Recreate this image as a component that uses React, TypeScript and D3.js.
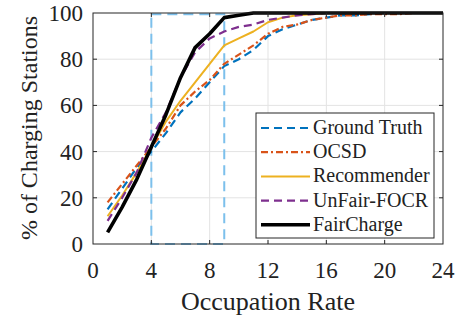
import React from "react";
import * as d3 from "d3";

const xs = [1,2,3,4,5,6,7,8,9,10,11,12,13,14,15,16,17,18,19,20,21,22,23,24];
const groundTruth = [15,24,33,40,48,57,63,70,77,80,84,90,93,95,97,98,99,99,99.5,100,100,100,100,100];
const ocsd = [18,26,34,42,50,60,66,71,78,82,86,91,94,95,97,98,99,99,99.5,99.5,99.5,100,100,100];
const recommender = [12,21,31,42,53,62,70,78,86,89,92,96,98,99,99.5,100,100,100,100,100,100,100,100,100];
const unfair = [10,20,31,46,57,72,83,89,92,94,95,97,98,99,99.5,100,100,100,100,100,100,100,100,100];
const fairCharge = [5,16,28,42,56,72,85,91,98,99,100,100,100,100,100,100,100,100,100,100,100,100,100,100];
const xTicks = [0,4,8,12,16,20,24];
const yTicks = [0,20,40,60,80,100];
const boxX = [4, 9];
const boxY = [0, 99.5];

const series = [
  { name: "Ground Truth", values: groundTruth, color: "#0072BD", width: 2.2, dash: "8,5" },
  { name: "OCSD", values: ocsd, color: "#D95319", width: 2.2, dash: "7,3,2,3" },
  { name: "Recommender", values: recommender, color: "#EDB120", width: 2, dash: "" },
  { name: "UnFair-FOCR", values: unfair, color: "#7E2F8E", width: 2.2, dash: "8,5" },
  { name: "FairCharge", values: fairCharge, color: "#000000", width: 3.6, dash: "" },
];

export default function App() {
  const L = 93, R = 443, T = 13, B = 244;
  const x = d3.scaleLinear().domain([0, 24]).range([L, R]);
  const y = d3.scaleLinear().domain([0, 100]).range([B, T]);
  const fontStyle = { fontFamily: '"Liberation Serif", "Times New Roman", serif' };
  const axisColor = "#262626";
  const lg = { x0: 256, y0: 113, x1: 434, y1: 238 };
  return (
    <svg width={458} height={320} style={{ position: "absolute", left: 0, top: 0, background: "#fff", ...fontStyle }}>
      <rect x={0} y={0} width={458} height={320} fill="#fff" />
      {xTicks.slice(1, -1).map((t) => (
        <line key={"gx" + t} x1={x(t)} x2={x(t)} y1={T} y2={B} stroke="#e3e3e3" strokeWidth={1} />
      ))}
      {yTicks.slice(1, -1).map((t) => (
        <line key={"gy" + t} x1={L} x2={R} y1={y(t)} y2={y(t)} stroke="#e3e3e3" strokeWidth={1} />
      ))}
      <rect x={x(boxX[0])} y={y(boxY[1])} width={x(boxX[1]) - x(boxX[0])} height={y(boxY[0]) - y(boxY[1])}
        fill="none" stroke="#7CC0EC" strokeWidth={2} strokeDasharray="10,6" />
      {series.map((s) => {
        const line = d3.line<number>().x((_, i) => x(xs[i])).y((v) => y(v));
        return (
          <path key={s.name} d={line(s.values) || ""} fill="none" stroke={s.color} strokeWidth={s.width}
            strokeDasharray={s.dash || undefined} strokeLinejoin="round" />
        );
      })}
      {xTicks.slice(1, -1).map((t) => (
        <g key={"tx" + t}>
          <line x1={x(t)} x2={x(t)} y1={B} y2={B - 4} stroke={axisColor} />
          <line x1={x(t)} x2={x(t)} y1={T} y2={T + 4} stroke={axisColor} />
        </g>
      ))}
      {yTicks.slice(1, -1).map((t) => (
        <g key={"ty" + t}>
          <line x1={L} x2={L + 4} y1={y(t)} y2={y(t)} stroke={axisColor} />
          <line x1={R} x2={R - 4} y1={y(t)} y2={y(t)} stroke={axisColor} />
        </g>
      ))}
      <rect x={L} y={T} width={R - L} height={B - T} fill="none" stroke={axisColor} strokeWidth={1} />
      {xTicks.map((t) => (
        <text key={"lx" + t} x={x(t)} y={278} textAnchor="middle" style={fontStyle} fontSize={23} fill="#222">{String(t)}</text>
      ))}
      {yTicks.map((t) => (
        <text key={"ly" + t} x={83} y={y(t) + 8} textAnchor="end" style={fontStyle} fontSize={23} fill="#222">{String(t)}</text>
      ))}
      <text x={x(12)} y={310} textAnchor="middle" style={fontStyle} fontSize={26} fill="#222">Occupation Rate</text>
      <text transform={`translate(37,${128}) rotate(-90)`} textAnchor="middle" style={fontStyle} fontSize={24} fill="#222">% of Charging Stations</text>
      <rect x={lg.x0} y={lg.y0} width={lg.x1 - lg.x0} height={lg.y1 - lg.y0} fill="#fff" stroke={axisColor} strokeWidth={1} />
      {series.map((s, i) => {
        const cy = 128 + i * 24.2;
        return (
          <g key={"lg" + s.name}>
            <line x1={261} x2={310} y1={cy} y2={cy} stroke={s.color} strokeWidth={s.width}
              strokeDasharray={s.dash || undefined} />
            <text x={313} y={cy + 6} style={fontStyle} fontSize={20} fill="#222">{s.name}</text>
          </g>
        );
      })}
    </svg>
  );
}
